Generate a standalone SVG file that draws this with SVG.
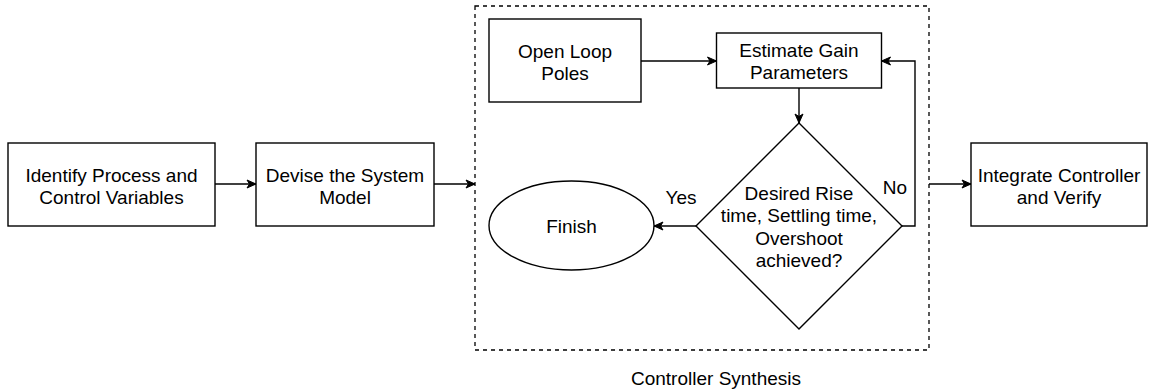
<svg xmlns="http://www.w3.org/2000/svg" width="1149" height="392" viewBox="0 0 1149 392">
  <style>
    .box { fill: #ffffff; stroke: #000000; stroke-width: 1.4; }
    .frame { fill: none; stroke: #000000; stroke-width: 1.3; stroke-dasharray: 4 4; }
    .edge { fill: none; stroke: #000000; stroke-width: 1.4; }
    text { font-family: "Liberation Sans", Arial, Helvetica, sans-serif; font-size: 19px; fill: #000000; text-anchor: middle; dominant-baseline: central; }
  </style>
  <defs>
    <marker id="arrow" markerWidth="12" markerHeight="12" refX="10" refY="6" orient="auto" markerUnits="userSpaceOnUse">
      <path d="M1,2 L10,6 L1,10 L3.5,6 Z" fill="#000000" stroke="#000000" stroke-width="1"/>
    </marker>
  </defs>
  <rect width="1149" height="392" fill="#ffffff"/>

  <!-- Controller Synthesis container -->
  <g id="controller-synthesis">
    <rect class="frame" x="475" y="6" width="454" height="344"/>
    <text x="716" y="378">Controller Synthesis</text>
  </g>

  <g id="identify">
    <rect class="box" x="8" y="143" width="207" height="83"/>
    <text x="111.5" y="175">Identify Process and</text>
    <text x="111.5" y="197">Control Variables</text>
  </g>

  <g id="devise">
    <rect class="box" x="256" y="143" width="178" height="83"/>
    <text x="345" y="175">Devise the System</text>
    <text x="345" y="197">Model</text>
  </g>

  <g id="open-loop">
    <rect class="box" x="489" y="19" width="152" height="83"/>
    <text x="565" y="51">Open Loop</text>
    <text x="565" y="73">Poles</text>
  </g>

  <g id="estimate">
    <rect class="box" x="716.5" y="33" width="165" height="55"/>
    <text x="799" y="50">Estimate Gain</text>
    <text x="799" y="72">Parameters</text>
  </g>

  <g id="decision">
    <polygon class="box" points="799,123 902,226 799,329 696,226"/>
    <text x="799" y="193">Desired Rise</text>
    <text x="799" y="215.5">time, Settling time,</text>
    <text x="799" y="238">Overshoot</text>
    <text x="799" y="260.5">achieved?</text>
  </g>

  <g id="finish">
    <ellipse class="box" cx="571.5" cy="225.5" rx="82.5" ry="44.5"/>
    <text x="571.5" y="226.5">Finish</text>
  </g>

  <g id="integrate">
    <rect class="box" x="971" y="143" width="176" height="83"/>
    <text x="1059" y="175">Integrate Controller</text>
    <text x="1059" y="197">and Verify</text>
  </g>

  <!-- connectors -->
  <g id="connectors">
    <path class="edge" d="M215,184 L256,184" marker-end="url(#arrow)"/>
    <path class="edge" d="M434,184 L475,184" marker-end="url(#arrow)"/>
    <path class="edge" d="M641,61 L716.5,61" marker-end="url(#arrow)"/>
    <path class="edge" d="M799,88 L799,123" marker-end="url(#arrow)"/>
    <path class="edge" d="M902,226 L915,226 L915,61 L881.5,61" marker-end="url(#arrow)"/>
    <path class="edge" d="M696,226 L654,226" marker-end="url(#arrow)"/>
    <path class="edge" d="M929,184 L971,184" marker-end="url(#arrow)"/>
    <text x="681" y="197">Yes</text>
    <text x="895" y="187">No</text>
  </g>
</svg>
